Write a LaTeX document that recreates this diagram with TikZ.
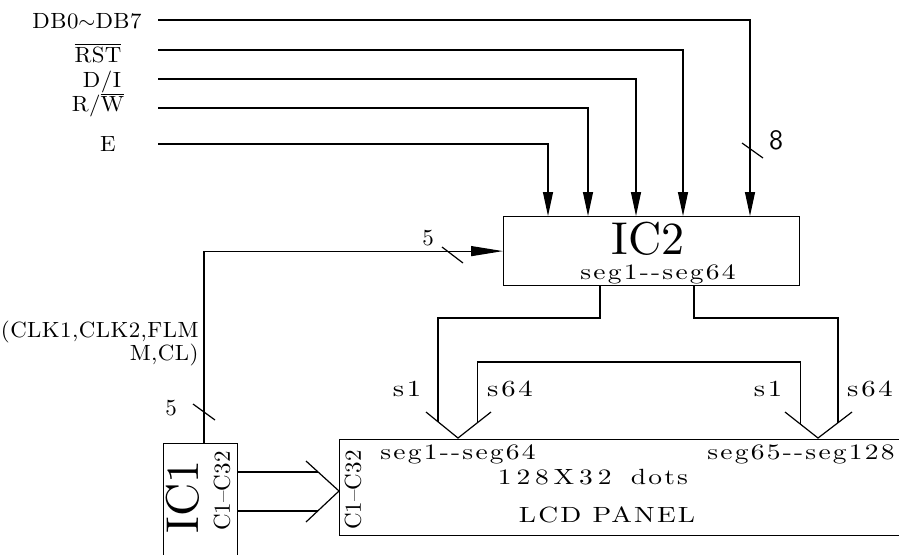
\documentclass[tikz,border=0pt]{standalone}
\usepackage{fontspec}
\setmainfont{lmroman10-regular}[Extension=.otf,BoldFont=lmroman10-bold,ItalicFont=lmroman10-italic]
\setsansfont{lmsans10-regular}[Extension=.otf]
\usetikzlibrary{arrows.meta,calc}
\tikzset{
 wire/.style={line width=0.6pt},
 tip/.style={-{Triangle[length=12pt,width=5pt]}},
 longtip/.style={-{Triangle[length=16pt,width=5pt]}},
 box/.style={draw,line width=0.6pt,inner sep=0pt,anchor=north west},
 sig/.style={font=\fontsize{11}{12}\selectfont\addfontfeature{FakeStretch=1.04,LetterSpace=2},inner sep=0pt},
 segt/.style={font=\fontsize{11}{13}\selectfont\addfontfeature{FakeStretch=1.25,LetterSpace=10},inner sep=1pt},
 pin/.style={font=\fontsize{11.5}{13}\selectfont\addfontfeature{FakeStretch=1.25,LetterSpace=12},inner sep=1pt},
 num/.style={font=\fontsize{11.5}{13}\selectfont},
 chip/.style={font=\fontsize{23}{26}\selectfont,inner sep=1pt},
 cc/.style={font=\fontsize{11.5}{13}\selectfont,rotate=90,inner sep=1pt},
 pnl/.style={font=\fontsize{11}{13}\selectfont\addfontfeature{FakeStretch=1.25,LetterSpace=10},inner sep=1pt},
 }

\begin{document}
\begin{tikzpicture}[x=0.5pt,y=-0.5pt]
        \useasboundingbox (0,0) rectangle (899,554);
        \clip (0,0) rectangle (899,554);
        % boxes
        \node[box,minimum width=148pt,minimum height=34.5pt] (ic2) at (503,216) {};
        \node[box,minimum width=290pt,minimum height=48pt] (lcd) at (339,439) {};
        \node[box,minimum width=37pt,minimum height=90pt] (ic1) at (163,443) {};
        \node[chip] (ic2txt) at (648,239) {IC2};
        \node[segt] (ic2seg) at (658,274) {seg1-{}-seg64};
        \node[chip,rotate=90] (ic1txt) at (183,497) {IC1};
        \node[cc] (ic1cc) at (222,491) {C1--C32};
        \node[cc] (lcdcc) at (353,490) {C1--C32};
        \node[segt] (lcdsega) at (458,454) {seg1-{}-seg64};
        \node[segt] (lcdsegb) at (801,454) {seg65-{}-seg128};
        \node[pnl] (dots) at (593,477) {{\addfontfeature{LetterSpace=22}128X32}\hspace{4pt} dots};
        \node[pnl] (panel) at (607,515) {LCD PANEL};
        % input signals
        \node[sig] (db) at (87,21) {DB0$\sim$DB7};
        \node[sig] (rst) at (98,53) {$\overline{\mbox{RST}}$};
        \node[sig] (di) at (102,82) {D/I};
        \node[sig] (rw) at (98,105) {R/$\overline{\mbox{W}}$};
        \node[sig] (en) at (108,144) {E};
        \foreach \n/\y/\x in {db/20/750, rst/50/683, di/79/636, rw/108/588, en/144/548}{
          \coordinate (\n-in) at (158,\y);
          \coordinate (\n-top) at (\x,216);
          \draw[wire,tip] (\n-in) -| (\n-top);
        }
        \draw[wire] (742,143) -- (763,158);
        \node[font=\fontsize{14}{16}\selectfont\sffamily] (eight) at (776,140) {8};
        % control bus IC1 -> IC2
        \coordinate (clk) at (204,443);
        \draw[wire,longtip] (clk) |- (ic2.west);
        \draw[wire] (442,247) -- (463,263);
        \node[num] (five) at (428,238) {5};
        \draw[wire] (193,404) -- (215,420);
        \node[num] (fiveb) at (171,408) {5};
        \node[sig,anchor=east] (bus) at (199,332) {(CLK1,CLK2,FLM};
        \node[sig,anchor=east] (busb) at (199,355) {M,CL)};
        % segment outputs
        \coordinate (la1) at (426,412);
        \coordinate (lv) at (458,438);
        \coordinate (la2) at (491,412);
        \coordinate (ra1) at (785,412);
        \coordinate (rv) at (818,438);
        \coordinate (ra2) at (852,412);
        \draw[wire] (la1) -- (lv) -- (la2);
        \draw[wire] (ra1) -- (rv) -- (ra2);
        \node[pin] (s1a) at (407,389) {s1};
        \node[pin] (s64a) at (510,389) {s64};
        \node[pin] (s1b) at (768,389) {s1};
        \node[pin] (s64b) at (870,389) {s64};
        \coordinate (o1) at (600,285);
        \coordinate (o2) at (694,285);
        \draw[wire] (o1) -- ++(0,33) -| ($(la1)!0.375!(lv)$);
        \draw[wire] (o2) -- ++(0,33) -| ($(ra2)!0.41!(rv)$);
        \coordinate (x1) at ($(lv)!0.58!(la2)$);
        \coordinate (x2) at ($(ra1)!0.48!(rv)$);
        \draw[wire] (x1) |- (x2 |- 0,362) -- (x2);
        % common outputs IC1 -> LCD
        \coordinate (ua) at (306,461);
        \coordinate (av) at (339,491);
        \coordinate (da) at (306,522);
        \draw[wire] (ua) -- (av) -- (da);
        \coordinate (c1) at ($(ua)!0.367!(av)$);
        \coordinate (c2) at ($(av)!0.645!(da)$);
        \draw[wire] (c1 -| ic1.east) -- (c1);
        \draw[wire] (c2 -| ic1.east) -- (c2);
    \end{tikzpicture}
\end{document}
